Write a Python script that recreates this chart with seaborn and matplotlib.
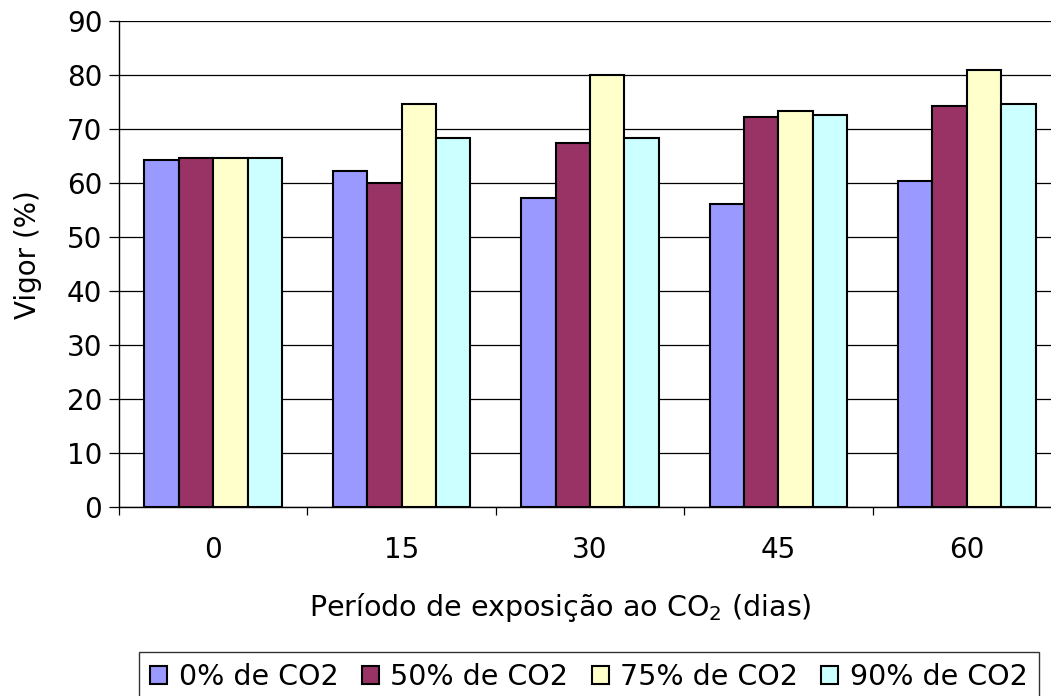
import matplotlib
matplotlib.use("Agg")
import matplotlib.pyplot as plt
import seaborn as sns
import pandas as pd
import numpy as np
from matplotlib.ticker import FixedLocator

# Exposure periods (days) and CO2 treatments
periodos = ["0", "15", "30", "45", "60"]
tratamentos = ["0% de CO2", "50% de CO2", "75% de CO2", "90% de CO2"]

# Vigor (%) per treatment, one value per period
vigor_0 = [64.2, 62.2, 57.3, 56.2, 60.3]
vigor_50 = [64.6, 60.0, 67.4, 72.2, 74.3]
vigor_75 = [64.6, 74.7, 80.0, 73.3, 80.9]
vigor_90 = [64.6, 68.3, 68.3, 72.6, 74.7]

cores = ["#9999FF", "#993366", "#FFFFCC", "#CCFFFF"]

df = pd.DataFrame({
    "periodo": periodos * 4,
    "vigor": vigor_0 + vigor_50 + vigor_75 + vigor_90,
    "trat": np.repeat(tratamentos, len(periodos)),
})

sns.set_theme(style="white")
plt.rcParams["font.family"] = ["DejaVu Sans"]
plt.rcParams["mathtext.fontset"] = "dejavusans"

W, H = 1051, 696
fig = plt.figure(figsize=(W / 100, H / 100), dpi=100, facecolor="white")
ax = fig.add_axes([119 / W, 1 - 507 / H, 942 / W, 486 / H])

sns.barplot(
    data=df, x="periodo", y="vigor", hue="trat",
    order=periodos, hue_order=tratamentos, palette=cores,
    width=0.73, edgecolor="black", linewidth=1.5, saturation=1,
    ax=ax, zorder=3,
)

ax.set_ylim(0, 90)
ax.set_xlim(-0.5, 4.5)
ax.set_yticks(np.arange(0, 91, 10))
ax.yaxis.grid(True, color="black", linewidth=0.9, zorder=0)
ax.set_axisbelow(True)

for s in ["top", "right"]:
    ax.spines[s].set_visible(False)
for s in ["left", "bottom"]:
    ax.spines[s].set_color("black")
    ax.spines[s].set_linewidth(1.0)

fs = 20
ax.tick_params(axis="y", direction="out", length=7, width=0.9, color="black",
               pad=5, labelsize=fs, labelcolor="black", left=True)
ax.tick_params(axis="x", which="major", length=0, pad=21, labelsize=fs,
               labelcolor="black")
ax.xaxis.set_minor_locator(FixedLocator(np.arange(-0.5, 5, 1.0)))
ax.tick_params(axis="x", which="minor", direction="out", length=6, width=0.9,
               color="black", bottom=True)

ax.set_xlabel(r"Período de exposição ao CO$_2$ (dias)", fontsize=20.5, color="black")
ax.xaxis.set_label_coords(0.469, -0.172)
ax.set_ylabel("Vigor (%)", fontsize=fs, color="black")
ax.yaxis.set_label_coords(-0.082, 0.52)

handles, labels = ax.get_legend_handles_labels()
ax.get_legend().remove()
leg = fig.legend(
    handles, labels, loc="upper left",
    bbox_to_anchor=(139 / W, 0, 900 / W, 1 - 652 / H), mode="expand",
    ncol=4, fontsize=20.5, frameon=True, fancybox=False, shadow=False,
    handlelength=0.6, handleheight=0.6, handletextpad=0.4,
    columnspacing=0.4, borderpad=0.4, borderaxespad=0,
)
leg.get_frame().set_edgecolor("black")
leg.get_frame().set_linewidth(1.0)
for t in leg.get_texts():
    t.set_color("black")

fig.savefig("out.png", dpi=100, facecolor="white")
